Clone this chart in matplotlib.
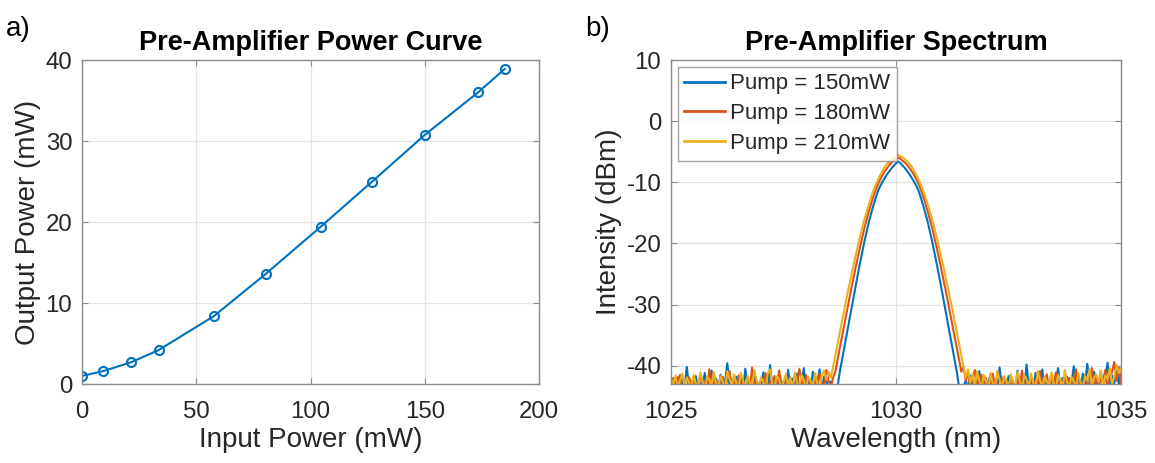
import numpy as np
import matplotlib
matplotlib.use("Agg")
import matplotlib.pyplot as plt

plt.rcParams['font.family'] = ['Liberation Sans', 'DejaVu Sans']
plt.rcParams['axes.unicode_minus'] = False

# panel a) power curve
input_power = [0, 9.4, 21.6, 33.6, 57.8, 80.4, 104.4, 127.0, 150.2, 173.3, 185.0]
output_power = [1.0, 1.6, 2.7, 4.2, 8.4, 13.6, 19.4, 25.0, 30.8, 36.0, 38.9]

# panel b) spectra, sampled every 0.05 nm from 1025 to 1035 nm
wl_start, wl_stop, wl_count = 1025.0, 1035.0, 201
pump_labels = ['Pump = 150mW', 'Pump = 180mW', 'Pump = 210mW']

spec_150 = [
    -42.4, -43.5, -42.8, -41.9, -44.0, -42.2, -43.6, -40.2, -43.8, -42.6,
    -43.4, -41.7, -44.1, -42.9, -43.2, -41.2, -43.9, -42.5, -40.8, -43.6,
    -42.1, -43.7, -41.5, -44.2, -42.7, -39.6, -43.5, -42.3, -44.0, -41.8,
    -43.3, -42.0, -44.3, -40.5, -43.6, -42.4, -43.9, -41.4, -44.1, -42.8,
    -43.5, -41.1, -42.6, -44.0, -39.9, -43.2, -42.3, -44.4, -41.6, -43.7,
    -42.5, -44.1, -40.7, -43.4, -42.1, -43.8, -41.3, -44.2, -42.9, -40.4,
    -43.6, -42.2, -44.0, -41.0, -43.3, -42.7, -40.6, -43.9, -41.8, -42.4,
    -43.8, -42.6, -44.1, -43.4, -43.5, -41.0, -39.0, -37.0, -35.0, -33.0,
    -31.0, -29.0, -27.0, -25.1, -23.2, -21.4, -19.6, -18.0, -16.4, -15.0,
    -13.7, -12.5, -11.4, -10.6, -9.9, -9.3, -8.7, -8.2, -7.7, -7.3,
    -6.9, -6.6, -6.9, -7.3, -7.7, -8.2, -8.7, -9.3, -9.9, -10.6,
    -11.4, -12.5, -13.7, -15.0, -16.4, -18.0, -19.6, -21.4, -23.2, -25.1,
    -27.0, -29.0, -31.0, -33.0, -35.0, -37.0, -39.0, -41.0, -43.5, -44.2,
    -43.6, -42.3, -44.0, -41.6, -43.1, -42.7, -44.3, -40.9, -43.5, -42.1,
    -44.0, -42.8, -41.4, -43.7, -42.5, -44.2, -40.3, -43.3, -42.0, -43.9,
    -41.7, -43.4, -42.6, -44.1, -40.8, -43.0, -42.2, -43.8, -39.8, -43.5,
    -42.4, -44.0, -41.2, -43.6, -42.9, -40.6, -44.2, -42.3, -43.1, -41.5,
    -43.9, -42.6, -40.4, -43.4, -42.0, -44.1, -41.8, -43.2, -42.7, -40.1,
    -43.7, -42.1, -44.3, -41.3, -43.0, -39.7, -42.5, -43.8, -41.0, -42.8,
    -44.0, -40.9, -43.3, -42.2, -39.5, -43.6, -41.6, -42.9, -40.0, -43.1,
    -41.4,
]

spec_180 = [
    -43.2, -42.0, -44.1, -42.7, -41.5, -43.8, -42.9, -44.3, -41.9, -43.0,
    -42.3, -44.0, -43.1, -41.4, -43.7, -42.6, -44.2, -40.6, -43.3, -42.1,
    -44.0, -42.8, -43.5, -41.8, -43.9, -42.2, -40.9, -43.6, -42.5, -44.1,
    -41.6, -43.2, -42.7, -44.2, -42.0, -43.7, -40.3, -43.4, -42.6, -44.0,
    -42.9, -43.5, -41.2, -44.1, -42.4, -43.0, -41.7, -43.8, -40.8, -42.7,
    -44.2, -42.3, -43.6, -41.9, -44.0, -42.8, -43.3, -40.5, -42.1, -43.7,
    -41.5, -43.9, -42.6, -44.1, -42.0, -43.4, -41.3, -42.9, -43.8, -40.7,
    -42.4, -43.6, -42.0, -41.0, -39.0, -37.1, -35.2, -33.3, -31.4, -29.5,
    -27.6, -25.8, -24.0, -22.3, -20.6, -19.0, -17.4, -16.0, -14.65, -13.4,
    -12.25, -11.2, -10.3, -9.5, -8.8, -8.2, -7.7, -7.2, -6.8, -6.5,
    -6.2, -5.95, -6.2, -6.5, -6.8, -7.2, -7.7, -8.2, -8.8, -9.5,
    -10.3, -11.2, -12.25, -13.4, -14.65, -16.0, -17.4, -19.0, -20.6, -22.3,
    -24.0, -25.8, -27.6, -29.5, -31.4, -33.3, -35.2, -37.1, -39.0, -41.0,
    -40.2, -42.5, -41.1, -43.6, -42.2, -40.7, -43.9, -42.4, -41.5, -43.3,
    -42.0, -44.1, -42.8, -41.3, -43.5, -42.6, -44.0, -41.9, -43.1, -42.3,
    -43.8, -41.6, -42.9, -44.2, -42.1, -43.4, -40.8, -43.7, -42.5, -44.0,
    -41.8, -43.2, -42.4, -43.9, -40.9, -42.7, -43.6, -41.4, -44.1, -42.2,
    -43.5, -41.1, -43.0, -42.6, -44.2, -41.7, -43.3, -42.0, -43.8, -42.5,
    -40.6, -43.6, -42.3, -44.0, -41.5, -43.1, -42.8, -40.4, -43.7, -42.1,
    -43.4, -41.9, -42.6, -40.7, -43.9, -42.2, -41.0, -39.4, -42.5, -40.3,
    -43.0,
]

spec_210 = [
    -42.2, -43.0, -41.6, -43.7, -42.4, -41.3, -43.5, -41.9, -42.7, -43.8,
    -41.5, -42.9, -43.6, -41.1, -42.5, -43.9, -41.8, -42.3, -43.4, -41.0,
    -42.8, -43.5, -41.7, -42.6, -43.8, -40.9, -42.2, -43.3, -41.4, -42.9,
    -43.7, -41.2, -42.5, -43.9, -41.6, -42.8, -43.4, -40.7, -42.4, -43.6,
    -41.9, -42.7, -43.8, -41.3, -40.6, -42.9, -43.5, -41.7, -42.2, -43.9,
    -42.6, -41.4, -43.3, -42.0, -43.7, -41.1, -42.8, -43.6, -41.5, -42.4,
    -43.8, -41.8, -42.5, -43.4, -41.2, -42.9, -43.7, -41.6, -40.8, -42.3,
    -41.0, -42.0, -40.2, -38.3, -36.4, -34.5, -32.65, -30.8, -28.95, -27.15,
    -25.4, -23.7, -22.05, -20.45, -18.9, -17.4, -16.0, -14.7, -13.5, -12.35,
    -11.3, -10.4, -9.6, -8.8, -8.1, -7.5, -7.0, -6.6, -6.25, -5.95,
    -5.75, -5.55, -5.75, -5.95, -6.25, -6.6, -7.0, -7.5, -8.1, -8.8,
    -9.6, -10.4, -11.3, -12.35, -13.5, -14.7, -16.0, -17.4, -18.9, -20.45,
    -22.05, -23.7, -25.4, -27.15, -28.95, -30.8, -32.65, -34.5, -36.4, -38.3,
    -40.2, -42.0, -40.6, -42.8, -41.3, -43.5, -40.9, -42.4, -43.7, -41.5,
    -42.6, -43.8, -41.2, -42.9, -43.4, -40.8, -42.3, -43.6, -41.7, -42.5,
    -43.9, -41.4, -42.7, -43.3, -41.0, -42.5, -43.8, -41.6, -42.2, -43.5,
    -41.3, -42.8, -43.6, -40.9, -42.4, -43.7, -41.8, -42.6, -43.2, -41.1,
    -42.9, -43.5, -41.5, -42.3, -43.8, -40.7, -42.7, -43.4, -41.9, -42.5,
    -43.6, -41.2, -42.8, -43.9, -41.7, -42.4, -40.6, -43.3, -42.0, -41.4,
    -42.7, -40.8, -43.5, -41.6, -42.2, -40.4, -43.0, -41.8, -39.8, -41.2,
    -40.5,
]

# MATLAB default colours
blue = '#0072BD'
red = '#D95319'
yellow = '#EDB120'
text_col = '#262626'
box_col = '#8c8c8c'
grid_col = '#e3e3e3'


def style_axes(ax):
    ax.grid(True, color=grid_col, linewidth=0.9)
    ax.set_axisbelow(True)
    for s in ax.spines.values():
        s.set_color(box_col)
        s.set_linewidth(1.0)
    ax.tick_params(direction='in', top=True, right=True, length=4,
                   color=box_col, labelcolor=text_col, labelsize=17.3)
    ax.tick_params(axis='x', pad=12)
    ax.tick_params(axis='y', pad=7)


fig = plt.figure(figsize=(11.55, 4.63), dpi=100)
ax1 = fig.add_axes([0.0710, 0.1706, 0.3957, 0.6998])
ax2 = fig.add_axes([0.5810, 0.1706, 0.3896, 0.6998])

# a) power curve
ax1.plot(input_power, output_power, '-o', color=blue, linewidth=1.5,
         markersize=6.5, markerfacecolor='none', markeredgewidth=1.5)
ax1.set_xlim(0, 200)
ax1.set_ylim(0, 40)
ax1.set_xticks([0, 50, 100, 150, 200])
ax1.set_yticks([0, 10, 20, 30, 40])
style_axes(ax1)
ax1.set_title('Pre-Amplifier Power Curve', fontsize=19.5, fontweight='bold',
              color='black', pad=7)
ax1.set_xlabel('Input Power (mW)', fontsize=20, color=text_col, labelpad=3)
ax1.set_ylabel('Output Power (mW)', fontsize=20, color=text_col, labelpad=3)

# b) spectrum
wavelength = np.linspace(wl_start, wl_stop, wl_count)
for vals, col, lab in zip([spec_150, spec_180, spec_210], [blue, red, yellow], pump_labels):
    ax2.plot(wavelength, vals, color=col, linewidth=1.5, label=lab)
ax2.set_xlim(1025, 1035)
ax2.set_ylim(-43, 10)
ax2.set_xticks([1025, 1030, 1035])
ax2.set_yticks([-40, -30, -20, -10, 0, 10])
style_axes(ax2)
ax2.set_title('Pre-Amplifier Spectrum', fontsize=19.5, fontweight='bold',
              color='black', pad=7)
ax2.set_xlabel('Wavelength (nm)', fontsize=20, color=text_col, labelpad=3)
ax2.set_ylabel('Intensity (dBm)', fontsize=20, color=text_col, labelpad=3)
leg = ax2.legend(loc='upper left', fontsize=16, frameon=True, fancybox=False,
                 borderaxespad=0.3, handlelength=1.85, handletextpad=0.2,
                 labelspacing=0.4, borderpad=0.3)
leg.get_frame().set_edgecolor(box_col)
leg.get_frame().set_linewidth(1.0)
for t in leg.get_texts():
    t.set_color(text_col)
for ln in leg.get_lines():
    ln.set_linewidth(2.0)

fig.text(0.005, 0.965, 'a)', fontsize=20, color='black', va='top', ha='left')
fig.text(0.507, 0.965, 'b)', fontsize=20, color='black', va='top', ha='left')

fig.savefig('out.png', dpi=100, facecolor='white')
